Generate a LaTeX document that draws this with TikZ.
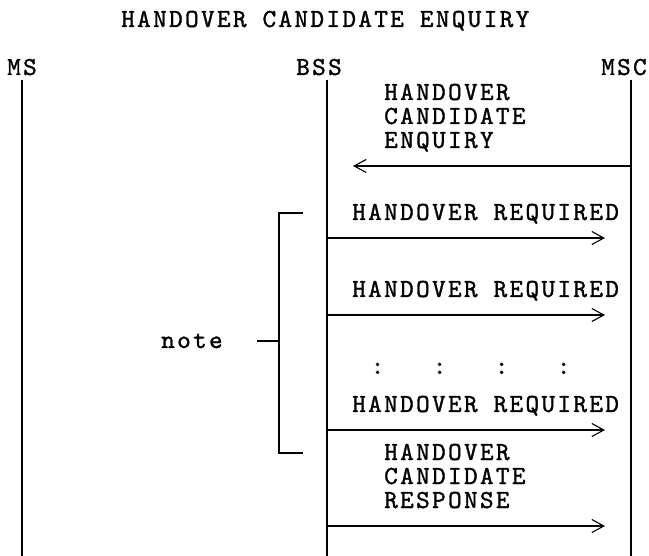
\documentclass[tikz,border=0pt]{standalone}
\usepackage{fontspec}
\newfontfamily\monofont{lmmono10-regular}[Extension=.otf, LetterSpace=8.9, FakeBold=1.2]
\usetikzlibrary{arrows.meta}
\tikzset{
  txt/.style={font=\monofont\fontsize{26}{24}\selectfont, inner sep=0pt, anchor=base west, align=left},
  life/.style={line width=1.6pt, black},
  msg/.style={line width=1.3pt, black, -{Straight Barb[length=12pt,width=13pt,line width=1.1pt]}},
  brk/.style={line width=1.3pt, black},
}
\begin{document}
\begin{tikzpicture}[x=1pt,y=-1pt]
\useasboundingbox (0,0) rectangle (649,556);
% title
\node[txt] (title) at (121,27) {HANDOVER CANDIDATE ENQUIRY};
% entity labels
\node[txt] (ms)  at (7,75)   {MS};
\node[txt] (bss) at (296,75) {BSS};
\node[txt] (msc) at (601,75) {MSC};
% lifelines
\coordinate (msT) at (22,80);   \coordinate (msB) at (22,556);
\coordinate (bsT) at (327,80);  \coordinate (bsB) at (327,556);
\coordinate (mcT) at (631,80);  \coordinate (mcB) at (631,556);
\draw[life] (msT) -- (msB);
\draw[life] (bsT) -- (bsB);
\draw[life] (mcT) -- (mcB);
% messages
\coordinate (a1s) at (631,166); \coordinate (a1e) at (353,166);
\coordinate (a2s) at (327,238); \coordinate (a2e) at (605,238);
\coordinate (a3s) at (327,315); \coordinate (a3e) at (605,315);
\coordinate (a4s) at (327,430); \coordinate (a4e) at (605,430);
\coordinate (a5s) at (327,526); \coordinate (a5e) at (605,526);
\node[txt] (t1) at (384,148) {HANDOVER\\CANDIDATE\\ENQUIRY};
\draw[msg] (a1s) -- (a1e);
\node[txt] (t2) at (352,220) {HANDOVER REQUIRED};
\draw[msg] (a2s) -- (a2e);
\node[txt] (t3) at (352,297) {HANDOVER REQUIRED};
\draw[msg] (a3s) -- (a3e);
\node[txt] (dots) at (370.5,374) {:\hspace{48.4pt}:\hspace{48.4pt}:\hspace{48.4pt}:};
\node[txt] (t4) at (352,412) {HANDOVER REQUIRED};
\draw[msg] (a4s) -- (a4e);
\node[txt] (t5) at (384,508) {HANDOVER\\CANDIDATE\\RESPONSE};
\draw[msg] (a5s) -- (a5e);
% note bracket
\node[txt] (note) at (161,348) {note};
\coordinate (bTop) at (303,213); \coordinate (bTl) at (279,213);
\coordinate (bBot) at (303,453); \coordinate (bBl) at (279,453);
\coordinate (bMid) at (279,341); \coordinate (nTick) at (257,341);
\draw[brk] (bTop) -- (bTl) -- (bBl) -- (bBot);
\draw[brk] (nTick) -- (bMid);
\end{tikzpicture}
\end{document}
